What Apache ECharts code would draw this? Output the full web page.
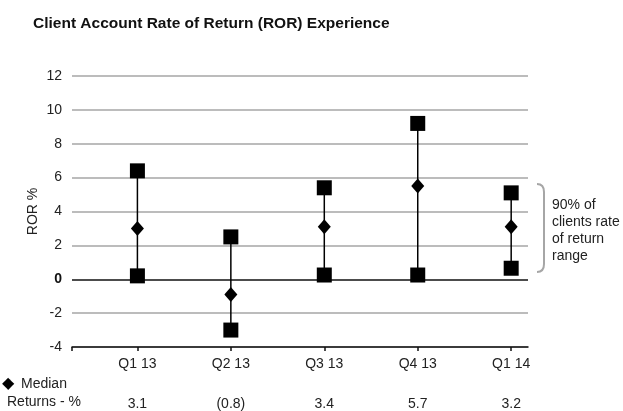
<!DOCTYPE html>
<html>
<head>
<meta charset="utf-8">
<script src="https://cdn.jsdelivr.net/npm/echarts@6/dist/echarts.min.js"></script>
<style>
  html, body { margin: 0; padding: 0; background: #fff; }
  #main { width: 623px; height: 411px; }
</style>
</head>
<body>
<div id="main"></div>
<script>
// quarters along the x axis
const categories = ['Q1 13', 'Q2 13', 'Q3 13', 'Q4 13', 'Q1 14'];
// 90% range of client returns (read from squares)
const highValues = [6.4, 2.5, 5.4, 9.2, 5.1];
const lowValues = [0.2, -3.0, 0.25, 0.25, 0.65];
// median diamonds as plotted
const medianValues = [3.0, -0.9, 3.1, 5.5, 3.1];
// median returns as printed in the table row
const medianLabels = ['3.1', '(0.8)', '3.4', '5.7', '3.2'];
const yTicks = [-4, -2, 0, 2, 4, 6, 8, 10, 12];

const font = '"Liberation Sans", Arial, sans-serif';
const chart = echarts.init(document.getElementById('main'));

const rangeData = categories.map((c, i) => [i, lowValues[i], highValues[i]]);
const squares = [];
categories.forEach((c, i) => {
    squares.push([i, highValues[i]]);
    squares.push([i, lowValues[i]]);
});
const diamonds = categories.map((c, i) => [i, medianValues[i]]);

chart.setOption({
    animation: false,
    textStyle: { fontFamily: font },
    title: {
        text: 'Client Account Rate of Return (ROR) Experience',
        left: 28,
        top: 11,
        textStyle: { fontSize: 15.5, fontWeight: 'bold', color: '#111', fontFamily: font }
    },
    grid: { left: 72, right: 95, top: 76, bottom: 63 },
    xAxis: {
        type: 'value',
        min: -0.7,
        max: 4.18,
        splitLine: { show: false },
        axisLine: { show: true, onZero: false, lineStyle: { color: '#111', width: 1.5 } },
        axisTick: {
            show: true,
            customValues: [-0.7, 0, 1, 2, 3, 4],
            length: 4,
            lineStyle: { color: '#111', width: 1.5 }
        },
        axisLabel: {
            customValues: [0, 1, 2, 3, 4],
            margin: 7,
            formatter: function (v) {
                const i = Math.round(v);
                return '{c|' + categories[i] + '}\n{s|}\n{v|' + medianLabels[i] + '}';
            },
            rich: {
                c: { fontSize: 14, color: '#222', lineHeight: 20, fontFamily: font },
                s: { fontSize: 14, lineHeight: 20 },
                v: { fontSize: 14, color: '#222', lineHeight: 20, fontFamily: font }
            }
        }
    },
    yAxis: {
        type: 'value',
        min: -4,
        max: 12,
        interval: 2,
        name: 'ROR %',
        nameLocation: 'middle',
        nameGap: 32,
        nameMoveOverlap: false,
        nameRotate: 90,
        nameTextStyle: { fontSize: 14, color: '#222', fontFamily: font },
        axisLine: { show: false },
        axisTick: { show: false },
        axisLabel: {
            margin: 10,
            fontSize: 14,
            color: '#222',
            formatter: function (v) {
                return v === 0 ? '{z|0}' : String(v);
            },
            rich: { z: { fontSize: 14, fontWeight: 'bold', color: '#111', fontFamily: font } }
        },
        splitLine: {
            lineStyle: {
                width: 1.5,
                color: yTicks.map(t => t === 0 ? '#111' : '#a6a6a6')
            }
        }
    },
    series: [
        {
            type: 'custom',
            data: rangeData,
            z: 2,
            renderItem: function (params, api) {
                const a = api.coord([api.value(0), api.value(1)]);
                const b = api.coord([api.value(0), api.value(2)]);
                return {
                    type: 'line',
                    shape: { x1: a[0], y1: a[1], x2: b[0], y2: b[1] },
                    style: { stroke: '#000', lineWidth: 1.5 }
                };
            }
        },
        {
            type: 'scatter',
            data: squares,
            symbol: 'rect',
            symbolSize: 15,
            z: 3,
            itemStyle: { color: '#000', opacity: 1 }
        },
        {
            type: 'scatter',
            data: diamonds,
            symbol: 'diamond',
            symbolSize: [13, 15],
            z: 4,
            itemStyle: { color: '#000', opacity: 1 }
        }
    ],
    graphic: [
        // bracket beside the last range
        {
            type: 'bezierCurve',
            shape: { x1: 537, y1: 184, x2: 544, y2: 192, cpx1: 544, cpy1: 184 },
            style: { stroke: '#a6a6a6', lineWidth: 2, fill: null }
        },
        {
            type: 'line',
            shape: { x1: 544, y1: 192, x2: 544, y2: 264 },
            style: { stroke: '#a6a6a6', lineWidth: 2 }
        },
        {
            type: 'bezierCurve',
            shape: { x1: 544, y1: 264, x2: 537, y2: 272, cpx1: 544, cpy1: 272 },
            style: { stroke: '#a6a6a6', lineWidth: 2, fill: null }
        },
        {
            type: 'text',
            left: 552,
            top: 197,
            style: {
                text: '90% of\nclients rate\nof return\nrange',
                font: '14px ' + font,
                fill: '#222',
                lineHeight: 17
            }
        },
        {
            type: 'text',
            left: 2,
            top: 376,
            style: { text: '\u25C6', font: '16px ' + font, fill: '#000' }
        },
        {
            type: 'text',
            left: 21,
            top: 377,
            style: { text: 'Median', font: '14px ' + font, fill: '#222' }
        },
        {
            type: 'text',
            left: 7,
            top: 395,
            style: { text: 'Returns - %', font: '14px ' + font, fill: '#222' }
        }
    ]
});
</script>
</body>
</html>
